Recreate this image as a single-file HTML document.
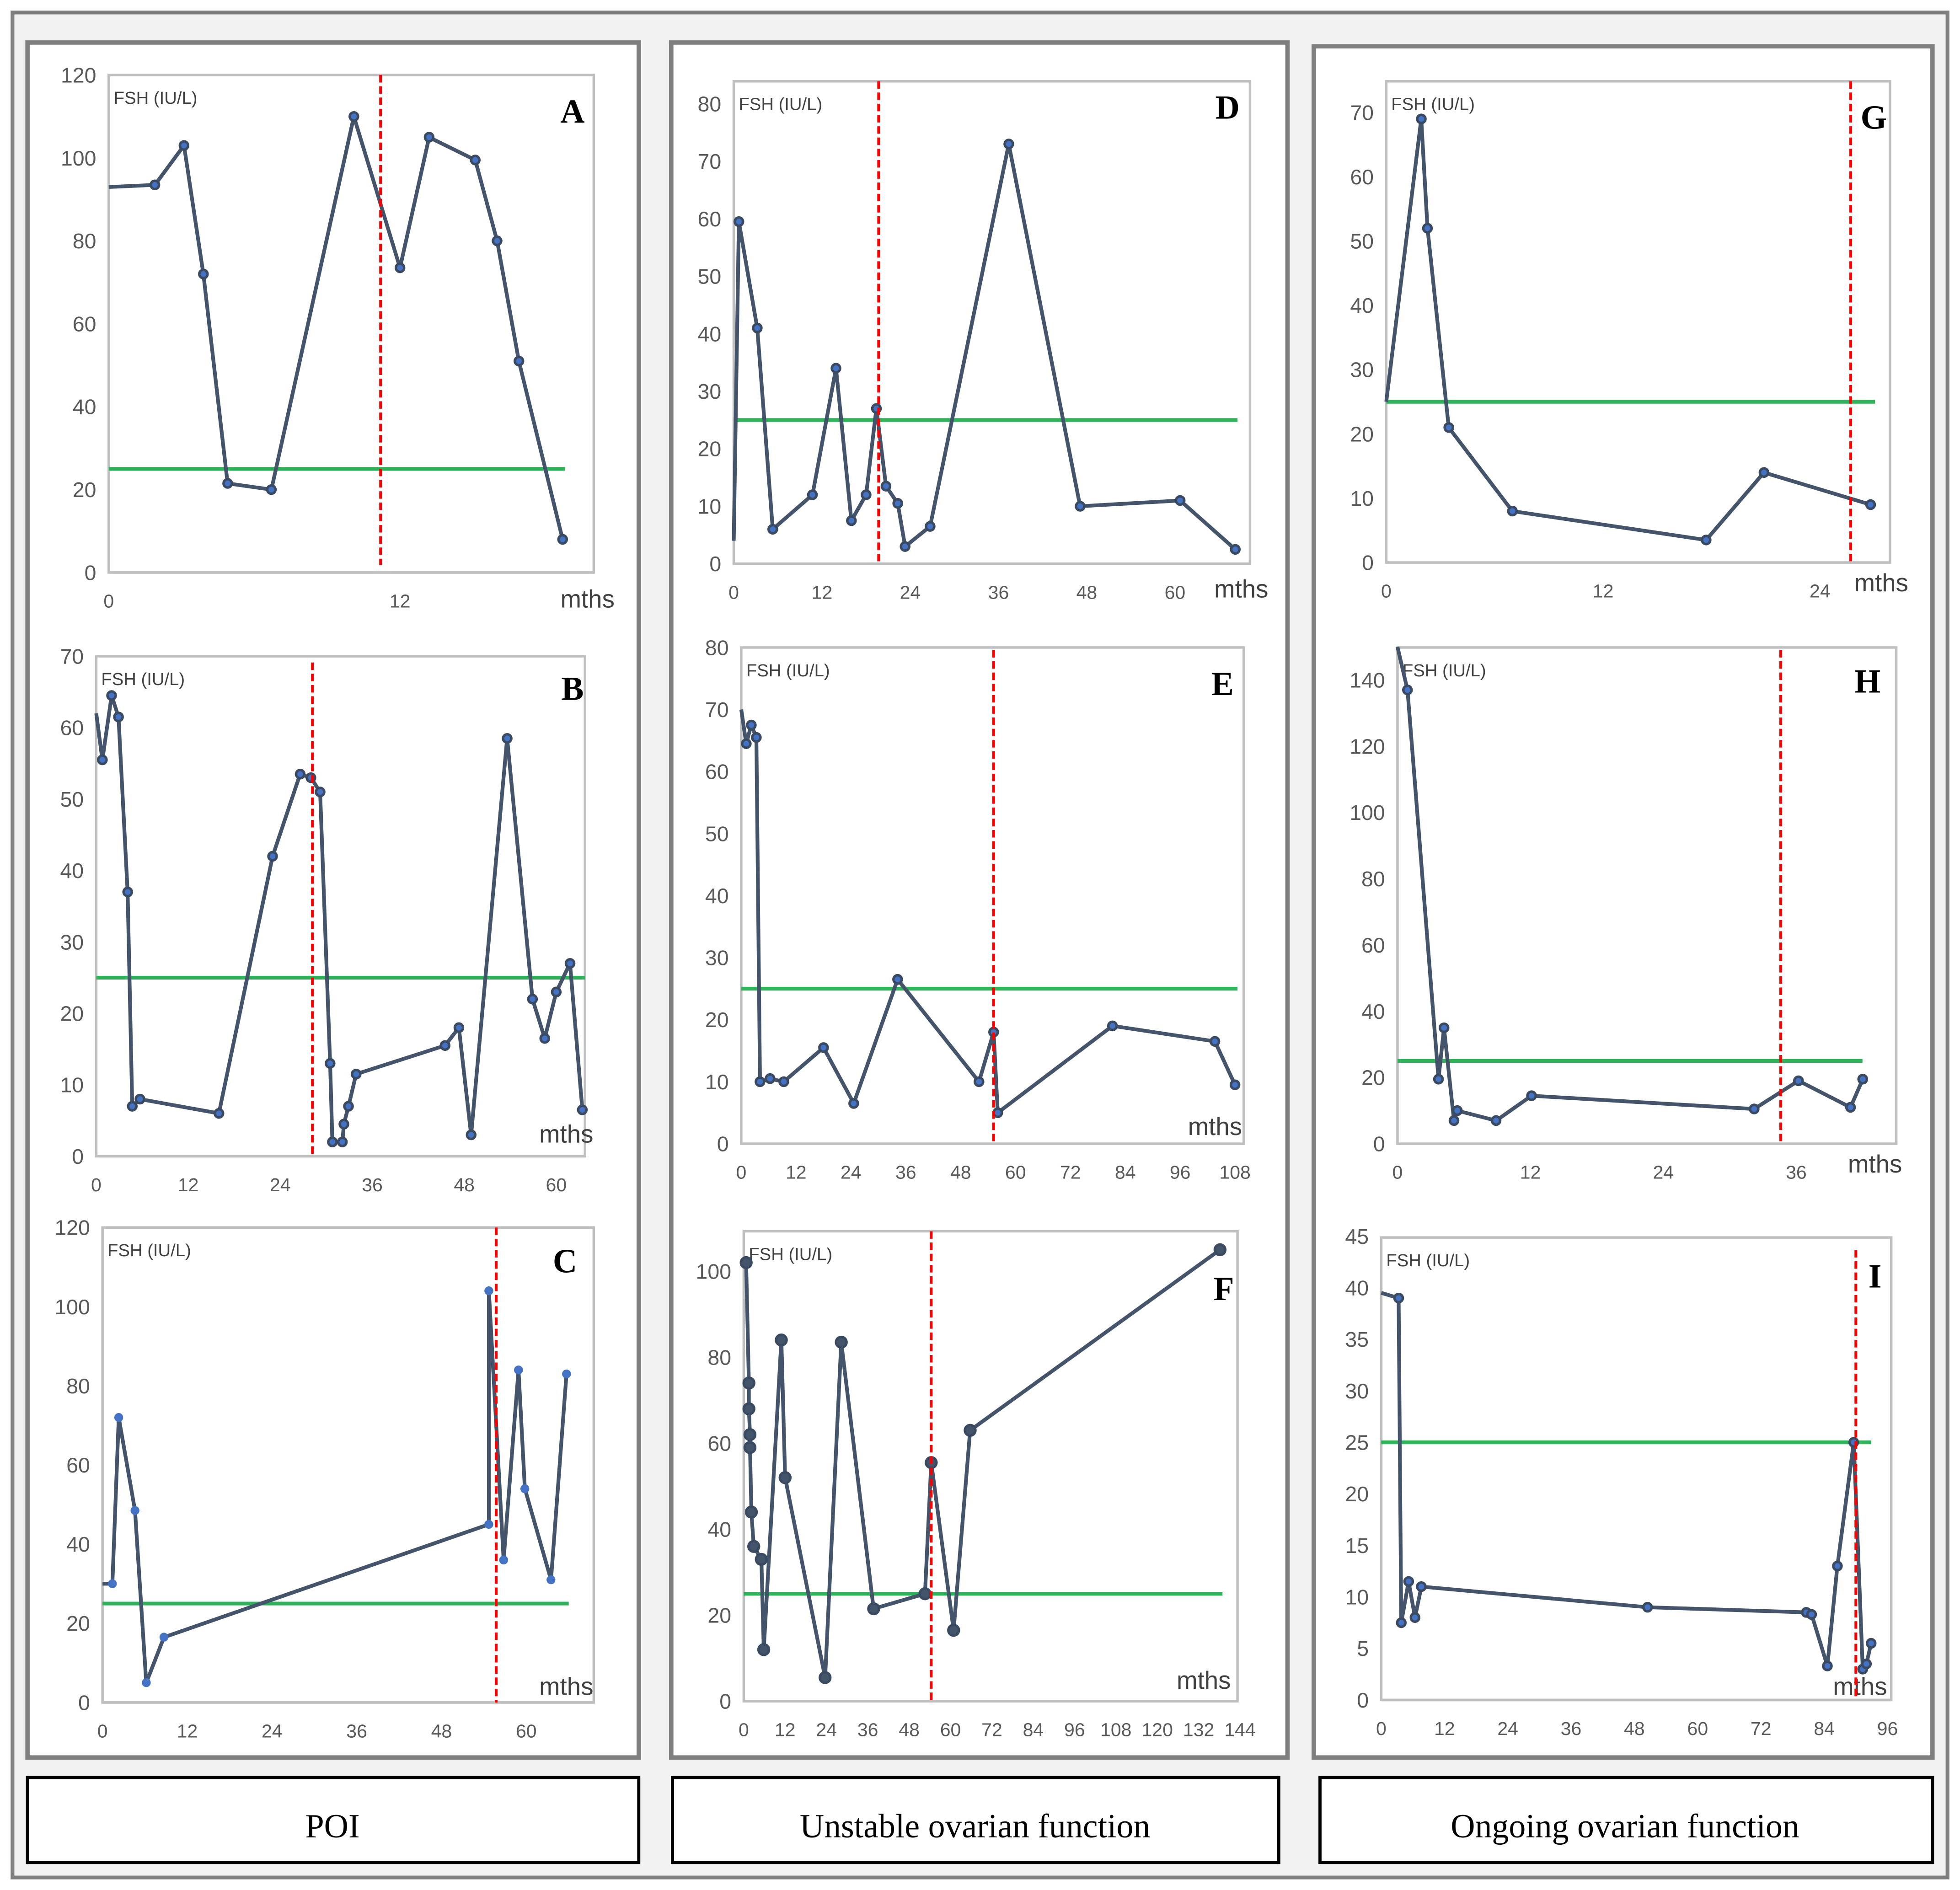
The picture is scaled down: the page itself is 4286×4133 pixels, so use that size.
<!DOCTYPE html>
<html><head><meta charset="utf-8">
<style>
html,body{margin:0;padding:0;background:#fff;}
svg{display:block;}
text{font-family:"Liberation Sans",sans-serif;}
</style></head>
<body>
<svg id="fig" width="4286" height="4133" viewBox="0 0 1568 1512" xmlns="http://www.w3.org/2000/svg">
<rect x="10" y="10" width="1548" height="1492" fill="#f2f2f2" stroke="#7f7f7f" stroke-width="3"/>
<rect x="22" y="34" width="489" height="1372" fill="#fff" stroke="#7f7f7f" stroke-width="3.5"/>
<rect x="537" y="34" width="493" height="1372" fill="#fff" stroke="#7f7f7f" stroke-width="3.5"/>
<rect x="1051" y="37" width="495" height="1369" fill="#fff" stroke="#7f7f7f" stroke-width="3.5"/>
<g>
<rect x="22" y="1422" width="489" height="68" fill="#fff" stroke="#000" stroke-width="2.5"/>
<text x="266" y="1470" text-anchor="middle" font-size="27" style="font-family:'Liberation Serif',serif">POI</text></g>
<g>
<rect x="538" y="1422" width="485" height="68" fill="#fff" stroke="#000" stroke-width="2.5"/>
<text x="780" y="1470" text-anchor="middle" font-size="27" style="font-family:'Liberation Serif',serif">Unstable ovarian function</text></g>
<g>
<rect x="1056" y="1422" width="490" height="68" fill="#fff" stroke="#000" stroke-width="2.5"/>
<text x="1300" y="1470" text-anchor="middle" font-size="27" style="font-family:'Liberation Serif',serif">Ongoing ovarian function</text></g>
<g id="charts"></g>
</svg>
<script>
const aMonths=[0,1.9,3.1,3.9,4.9,6.7,10.1,12,13.2,15.1,16,16.9,18.7];
const aFsh=[93,93.5,103,72,21.5,20,110,73.5,105,99.5,80,51,8];
const bMonths=[0,0.8,2.0,2.9,4.1,4.7,5.7,16,23,26.6,28,29.2,30.5,30.8,32.1,32.3,32.9,33.9,45.5,47.3,48.9,53.6,56.9,58.5,60,61.8,63.4];
const bFsh=[62,55.5,64.5,61.5,37,7,8,6,42,53.5,53,51,13,2,2,4.5,7,11.5,15.5,18,3,58.5,22,16.5,23,27,6.5];
const cMonths=[0,1.4,2.3,4.6,6.2,8.7,54.7,54.7,56.8,58.9,59.8,63.5,65.7];
const cFsh=[30,30,72,48.5,5,16.5,45,104,36,84,54,31,83];
const dMonths=[0,0.7,3.2,5.3,10.7,13.9,16,18,19.4,20.7,22.3,23.3,26.7,37.4,47.1,60.7,68.2];
const dFsh=[4,59.5,41,6,12,34,7.5,12,27,13.5,10.5,3,6.5,73,10,11,2.5];
const eMonths=[0,1.1,2.2,3.3,4.1,6.3,9.3,18,24.6,34.2,52,55.2,56.1,81.2,103.6,108];
const eFsh=[70,64.5,67.5,65.5,10,10.5,10,15.5,6.5,26.5,10,18,5,19,16.5,9.5];
const fMonths=[0.7,1.5,1.5,1.8,1.8,2.2,2.9,5.1,5.8,10.9,12,23.6,28.3,37.7,52.6,54.4,60.9,65.7,138.2];
const fFsh=[102,74,68,62,59,44,36,33,12,84,52,5.5,83.5,21.5,25,55.5,16.5,63,105];
const gMonths=[0,1.94,2.28,3.46,6.98,17.7,20.9,26.8];
const gFsh=[25,69,52,21,8,3.5,14,9];
const hMonths=[0,0.9,3.7,4.2,5.1,5.4,8.9,12.1,32.2,36.2,40.9,42];
const hFsh=[150,137,19.5,35,7,10,7,14.5,10.5,19,11,19.5];
const iMonths=[0,3.3,3.8,5.2,6.4,7.6,50.5,80.6,81.6,84.6,86.5,89.6,91.3,92,92.9];
const iFsh=[39.5,39,7.5,11.5,8,11,9,8.5,8.3,3.3,13,25,3,3.5,5.5];
const aXTicks=[0,12];const bXTicks=[0,12,24,36,48,60];const cXTicks=[0,12,24,36,48,60];
const dXTicks=[0,12,24,36,48,60];const eXTicks=[0,12,24,36,48,60,72,84,96,108];
const fXTicks=[0,12,24,36,48,60,72,84,96,108,120,132,144];
const gXTicks=[0,12,24];const hXTicks=[0,12,24,36];const iXTicks=[0,12,24,36,48,60,72,84,96];
const aYTicks=[0,20,40,60,80,100,120];const bYTicks=[0,10,20,30,40,50,60,70];
const cYTicks=[0,20,40,60,80,100,120];const dYTicks=[0,10,20,30,40,50,60,70,80];
const eYTicks=[0,10,20,30,40,50,60,70,80];const fYTicks=[0,20,40,60,80,100];
const gYTicks=[0,10,20,30,40,50,60,70];const hYTicks=[0,20,40,60,80,100,120,140];
const iYTicks=[0,5,10,15,20,25,30,35,40,45];
const threshold=25;
const redLines={a:11.2,b:28.2,c:55.75,d:19.7,e:55.2,f:54.4,g:25.7,h:34.6,i:90};

const NS='http://www.w3.org/2000/svg';
const root=document.getElementById('charts');
function mk(tag,attrs,parent){const e=document.createElementNS(NS,tag);for(const k in attrs)e.setAttribute(k,attrs[k]);(parent||root).appendChild(e);return e;}

// layout: x0 px of month0, xRef px of refMonth, y0 px of value0, yTop px of topVal
const layout=[
 {id:'a',L:'A',months:aMonths,fsh:aFsh,xt:aXTicks,yt:aYTicks,x0:87,xr:320,rm:12,y0:458,yt1:60,tv:120,box:[87,60,475,458],g1:452,r:[60,452],letter:[458,98],mths:[470,486],skip0:true,minor:[6,18],col:'#4472c4'},
 {id:'b',L:'B',months:bMonths,fsh:bFsh,xt:bXTicks,yt:bYTicks,x0:77,xr:445,rm:60,y0:925,yt1:525,tv:70,box:[77,525,468,925],g1:468,r:[530,925],letter:[458,560],mths:[453,914],skip0:true,col:'#4472c4'},
 {id:'c',L:'C',months:cMonths,fsh:cFsh,xt:cXTicks,yt:cYTicks,x0:82,xr:421,rm:60,y0:1362,yt1:982,tv:120,box:[82,982,475,1362],g1:455,r:[982,1362],letter:[452,1018],mths:[453,1356],skip0:true,col:'#4472c4',blue:true},
 {id:'d',L:'D',months:dMonths,fsh:dFsh,xt:dXTicks,yt:dYTicks,x0:587,xr:940,rm:60,y0:451,yt1:83,tv:80,box:[587,65,1000,451],g1:990,r:[65,451],letter:[982,95],mths:[993,478],skip0:true,col:'#4472c4'},
 {id:'e',L:'E',months:eMonths,fsh:eFsh,xt:eXTicks,yt:eYTicks,x0:593,xr:988,rm:108,y0:915,yt1:518,tv:80,box:[593,518,995,915],g1:990,r:[520,915],letter:[978,556],mths:[972,908],skip0:true,col:'#4472c4'},
 {id:'f',L:'F',months:fMonths,fsh:fFsh,xt:fXTicks,yt:fYTicks,x0:595,xr:992,rm:144,y0:1361,yt1:1017,tv:100,box:[595,985,990,1361],g1:978,r:[985,1361],letter:[979,1040],mths:[963,1351],skip0:false,col:'#44546a',big:true},
 {id:'g',L:'G',months:gMonths,fsh:gFsh,xt:gXTicks,yt:gYTicks,x0:1109,xr:1456,rm:24,y0:450,yt1:90,tv:70,box:[1109,65,1512,450],g1:1500,r:[65,450],letter:[1499,103],mths:[1505,473],skip0:true,col:'#4472c4'},
 {id:'h',L:'H',months:hMonths,fsh:hFsh,xt:hXTicks,yt:hYTicks,x0:1118,xr:1437,rm:36,y0:915,yt1:544,tv:140,box:[1118,518,1517,915],g1:1490,r:[520,915],letter:[1494,554],mths:[1500,938],skip0:true,col:'#4472c4'},
 {id:'i',L:'I',months:iMonths,fsh:iFsh,xt:iXTicks,yt:iYTicks,x0:1105,xr:1510,rm:96,y0:1360,yt1:989,tv:45,box:[1105,990,1513,1360],g1:1497,r:[1000,1360],letter:[1500,1030],mths:[1488,1356],skip0:true,col:'#4472c4'}
];

layout.forEach(c=>{
  const X=m=>c.x0+(c.xr-c.x0)*m/c.rm;
  const Y=v=>c.y0-(c.y0-c.yt1)*v/c.tv;
  const g=mk('g',{});
  
  
  const [bx0,by0,bx1,by1]=c.box;
  const box=mk('rect',{x:bx0,y:by0,width:bx1-bx0,height:by1-by0,fill:'none',stroke:'#bfbfbf','stroke-width':2},g);
  
  
  c.yt.forEach(v=>{
    const t=mk('text',{x:c.x0-10,y:Y(v)+6,'text-anchor':'end','font-size':17,fill:'#595959'},g);
    t.textContent=v;
    
    
  });
  c.xt.forEach(v=>{
    const t=mk('text',{x:X(v),y:c.y0+28,'text-anchor':'middle','font-size':15,fill:'#595959'},g);
    t.textContent=v;
    
    
  });
  const ax=mk('line',{x1:bx0,x2:bx1,y1:c.y0,y2:c.y0,stroke:'#bfbfbf','stroke-width':2},g);
  
  
  const fl=mk('text',{x:bx0+4,y:by0+23,'font-size':14,fill:'#404040'},g);
  fl.textContent='FSH (IU/L)';
  
  
  const lt=mk('text',{x:c.letter[0],y:c.letter[1],'text-anchor':'middle','font-size':27,'font-weight':'bold',style:"font-family:'Liberation Serif',serif"},g);
  lt.textContent=c.L;
  
  
  const mt=mk('text',{x:c.mths[0],y:c.mths[1],'text-anchor':'middle','font-size':20,fill:'#404040'},g);
  mt.textContent='mths';
  
  
  const gl=mk('line',{x1:c.x0,x2:c.g1,y1:Y(threshold),y2:Y(threshold),stroke:'#2eb35a','stroke-width':3},g);
  
  
  const pts=c.months.map((m,k)=>X(m).toFixed(1)+','+Y(c.fsh[k]).toFixed(1)).join(' ');
  const pl=mk('polyline',{points:pts,fill:'none',stroke:'#44546a','stroke-width':3,'stroke-linejoin':'round'},g);
  
  
  c.months.forEach((m,k)=>{
    if(k===0&&c.skip0)return;
    const r=c.big?4.2:3.3;
    const p=mk('circle',{cx:X(m),cy:Y(c.fsh[k]),r:r,fill:c.blue?'#4472c4':c.col,stroke:c.blue?'#4472c4':'#3a4a60','stroke-width':c.blue?0.5:2},g);
    
    
  });
  const rl=mk('line',{x1:X(redLines[c.id]),x2:X(redLines[c.id]),y1:c.r[0],y2:c.r[1],stroke:'#ff0000','stroke-width':2.2,'stroke-dasharray':'6,3'},g);
  
  
});
</script>
</body></html>
